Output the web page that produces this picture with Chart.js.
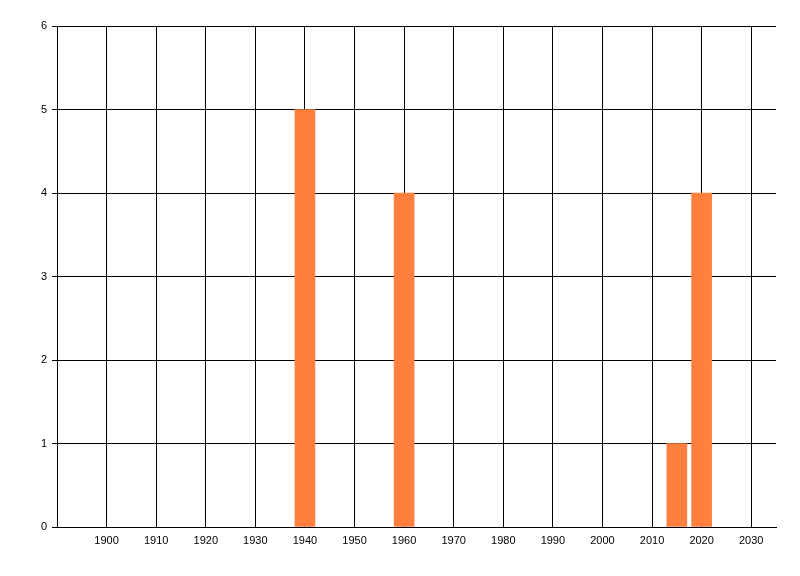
<!DOCTYPE html>
<html>
<head>
<meta charset="utf-8">
<script src="https://cdn.jsdelivr.net/npm/chart.js@4"></script>
<style>
    html, body { margin: 0; padding: 0; background: #fff; }
    #wrap { width: 800px; height: 576px; }
</style>
</head>
<body>
<div id="wrap"><canvas id="chart" width="800" height="576"></canvas></div>
<script>
const years = [1940, 1960, 2015, 2020];
const counts = [5, 4, 1, 4];
const xTickLabels = [1900, 1910, 1920, 1930, 1940, 1950, 1960, 1970, 1980, 1990, 2000, 2010, 2020, 2030];
const yTickLabels = [0, 1, 2, 3, 4, 5, 6];

const points = years.map((y, i) => ({ x: y, y: counts[i] }));

const tickFont = { family: 'Liberation Sans, Arial, sans-serif', size: 11 };

new Chart(document.getElementById('chart'), {
    type: 'bar',
    data: {
        datasets: [{
            data: points,
            backgroundColor: 'rgb(255,127,63)',
            borderWidth: 0,
            barThickness: 20
        }]
    },
    options: {
        responsive: false,
        animation: false,
        devicePixelRatio: 1,
        layout: { padding: { left: 0, top: 26, right: 24, bottom: 0 } },
        plugins: { legend: { display: false }, tooltip: { enabled: false } },
        scales: {
            x: {
                type: 'linear',
                min: 1890,
                max: 2035,
                offset: false,
                afterBuildTicks: (axis) => {
                    axis.ticks = xTickLabels.map(v => ({ value: v }));
                },
                afterFit: (axis) => { axis.height = 49; },
                ticks: { color: '#000', font: tickFont, padding: 7, maxRotation: 0, autoSkip: false,
                    callback: v => String(v) },
                grid: { color: '#000', lineWidth: 1, drawTicks: false, offset: false },
                border: { color: '#000', width: 1 }
            },
            y: {
                min: 0,
                max: 6,
                afterBuildTicks: (axis) => {
                    axis.ticks = yTickLabels.map(v => ({ value: v }));
                },
                afterFit: (axis) => { axis.width = 57; },
                ticks: { color: '#000', font: tickFont, padding: 5 },
                grid: { color: '#000', lineWidth: 1, tickLength: 5 },
                border: { color: '#000', width: 1 }
            }
        }
    }
});
</script>
</body>
</html>
